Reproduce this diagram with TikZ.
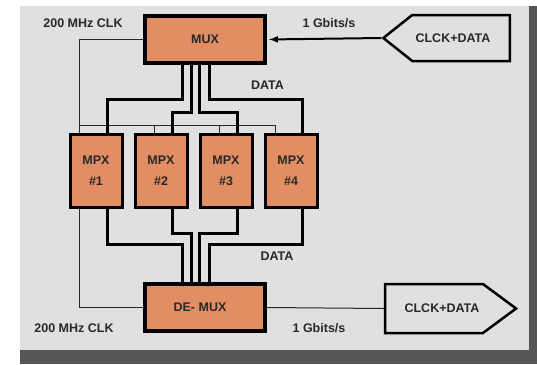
\documentclass[tikz,border=0pt]{standalone}
\usepackage{fontspec}
\setmainfont{Liberation Sans}
\usepackage{tikz}
\usetikzlibrary{shapes.symbols,arrows,positioning}

\definecolor{boxorange}{RGB}{226,141,99}
\definecolor{panelgray}{RGB}{224,224,224}
\definecolor{framegray}{RGB}{85,85,85}
\definecolor{inkgray}{RGB}{40,40,40}
\newcommand{\diagfont}{\fontsize{12.5}{15}\selectfont\bfseries}

\tikzstyle{mainbox} = [rectangle, font=\diagfont, minimum width=120, minimum height=47, draw=black, line width=4pt, fill=boxorange, text=inkgray]
\tikzstyle{mpxbox} = [rectangle, font=\diagfont, align=center, minimum width=52, minimum height=72.5, draw=black, line width=3pt, fill=boxorange, text=inkgray]
\tikzstyle{port} = [signal, font=\diagfont, draw=black, line width=2.5pt, fill=panelgray, text=inkgray]
\tikzstyle{lbltext} = [font=\diagfont, text=inkgray, inner sep=0pt]
\tikzstyle{databus} = [line width=3pt, draw=black]
\tikzstyle{clkline} = [line width=1pt, draw=inkgray]
\tikzstyle{arrow} = [line width=2pt,->,>=latex]

\begin{document}
\begin{tikzpicture}[x=1pt,y=-1pt,node distance=65pt]
\useasboundingbox (0,0) rectangle (537,364);
\fill[panelgray] (20,6) rectangle (529,350);
\fill[framegray] (529,6) rectangle (537,364);
\fill[framegray] (20,350) rectangle (537,364);

\node (mux) [mainbox] at (205,39.5) {MUX};
\node (demux) [mainbox] at (205,307.5) {DE- MUX\hspace*{10pt}};
\node (mpx1) [mpxbox] at (96,171) {MPX\\[6pt]\#1};
\node (mpx2) [mpxbox, right of=mpx1] {MPX\\[6pt]\#2};
\node (mpx3) [mpxbox, right of=mpx2] {MPX\\[6pt]\#3};
\node (mpx4) [mpxbox, right of=mpx3] {MPX\\[6pt]\#4};
\node (inport) [port, signal to=west, signal pointer angle=77, minimum width=121, minimum height=46] at (461,38) {CLCK+DATA\hspace*{16pt}};
\node (outport) [port, signal to=east, signal pointer angle=73, minimum width=131, minimum height=49] at (434,308.5) {\hspace*{16pt}CLCK+DATA};

\node (clkin) [lbltext] at (83,23) {200 MHz CLK};
\node (clkout) [lbltext] at (74,328) {200 MHz CLK};
\node (ratein) [lbltext] at (329,23) {1 Gbits/s};
\node (rateout) [lbltext] at (319,328) {1 Gbits/s};
\node (datain) [lbltext] at (267.5,85) {DATA};
\node (dataout) [lbltext] at (277,256) {DATA};

% clock lines
\draw [clkline] (mux.west) -| ([xshift=-17pt]mpx1.north);
\draw [clkline] ([xshift=-17pt,yshift=8pt]mpx1.north) -| ([xshift=-16pt]mpx4.north);
\draw [clkline] ([xshift=-7pt]mpx2.north) -- ([xshift=-7pt,yshift=8pt]mpx2.north);
\draw [clkline] ([xshift=-7pt]mpx3.north) -- ([xshift=-7pt,yshift=8pt]mpx3.north);
\draw [clkline] ([xshift=-17pt]mpx1.south) |- (demux.west);

% data lines
\draw [databus] ([xshift=-23pt]mux.south) -- ++(0,34) -| ([xshift=11pt]mpx1.north);
\draw [databus] ([xshift=-14pt]mux.south) -- ++(0,47.5) -| ([xshift=11pt]mpx2.north);
\draw [databus] ([xshift=-6pt]mux.south) -- ++(0,47.5) -| ([xshift=11pt]mpx3.north);
\draw [databus] ([xshift=4pt]mux.south) -- ++(0,34) -| ([xshift=11pt]mpx4.north);
\draw [databus] ([xshift=11pt]mpx1.south) -- ++(0,35.5) -| ([xshift=-23pt]demux.north);
\draw [databus] ([xshift=11pt]mpx2.south) -- ++(0,24.5) -| ([xshift=-14pt]demux.north);
\draw [databus] ([xshift=11pt]mpx3.south) -- ++(0,24.5) -| ([xshift=-6pt]demux.north);
\draw [databus] ([xshift=11pt]mpx4.south) -- ++(0,35.5) -| ([xshift=4pt]demux.north);

% in / out
\draw [arrow, shorten >=2pt] (inport.west) -- (mux.east);
\draw [clkline] (demux.east) -- (outport.west);
\end{tikzpicture}
\end{document}
